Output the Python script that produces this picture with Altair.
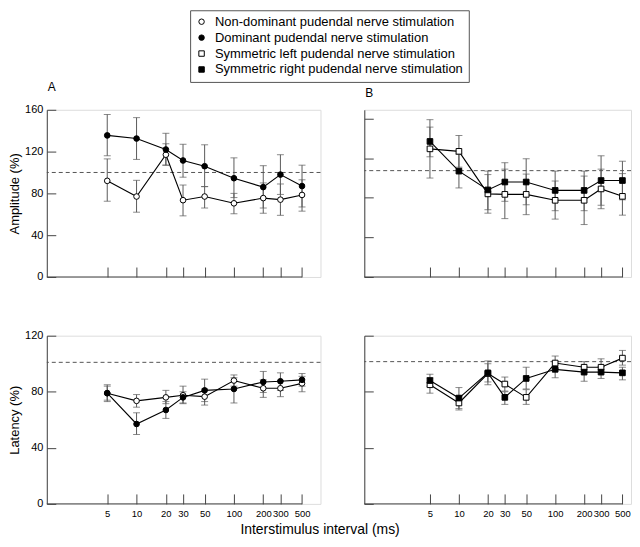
import altair as alt
import pandas as pd

# ---------------- data ----------------
intervals = [5, 10, 20, 30, 50, 100, 200, 300, 500]

series_names = [
    "Non-dominant pudendal nerve stimulation",
    "Dominant pudendal nerve stimulation",
    "Symmetric left pudendal nerve stimulation",
    "Symmetric right pudendal nerve stimulation",
]

# Panel A, amplitude (%)
amp_nondom = [92, 77, 117, 73.5, 77, 70.5, 75.5, 74, 78.5]
amp_nondom_lo = [72.5, 62, 107, 58.5, 66, 60.5, 61, 59, 63]
amp_nondom_hi = [113, 92.5, 127.5, 88, 86.5, 80, 90, 89, 93]
amp_dom = [135.5, 132.5, 122, 111.5, 106, 94.5, 86, 98, 87]
amp_dom_lo = [116, 112.5, 107, 95.5, 86.5, 76, 66, 79, 67]
amp_dom_hi = [155.5, 152.5, 137.5, 127, 126.5, 114, 106.5, 117, 107]

# Panel B, amplitude (%)
amp_left = [129.5, 127, 84, 83.5, 83.5, 77.5, 77.5, 89, 81.5]
amp_left_lo = [100, 111, 64.5, 59, 63, 58.5, 53, 69, 62.5]
amp_left_hi = [159, 143, 103.5, 109, 104, 97, 102, 109, 104.5]
amp_right = [137, 107, 88, 96, 96, 87.5, 87.5, 97.5, 97.5]
amp_right_lo = [121.5, 90, 68, 76.5, 73, 67, 67, 72.5, 78]
amp_right_hi = [151.5, 124, 107, 115.5, 119.5, 107, 107, 122.5, 117]

# Panel A, latency (%)
lat_nondom = [79, 73.5, 76, 77.5, 76.5, 88, 82.5, 82.5, 86]
lat_nondom_lo = [73, 69, 71.5, 71.5, 70.5, 84, 76, 76.5, 80]
lat_nondom_hi = [85, 78, 81, 84, 82, 92, 88.5, 88, 91]
lat_dom = [79, 57, 67, 76, 81, 82, 87, 87.5, 88.5]
lat_dom_lo = [74, 49.5, 61, 72, 73, 72, 79.5, 81, 84]
lat_dom_hi = [84, 65, 73, 80, 89, 90, 94.5, 93.5, 93]

# Panel B, latency (%)
lat_left = [85, 72, 93, 85.5, 76, 100.5, 97.5, 97.5, 104]
lat_left_lo = [79, 67, 85, 80.5, 71, 96.5, 93.5, 93.5, 99]
lat_left_hi = [90, 77, 100, 90.5, 81.5, 105.5, 101.5, 103.5, 109.5]
lat_right = [88, 75.5, 93.5, 76, 89.5, 96, 94, 94, 93.5]
lat_right_lo = [84, 68, 87, 71, 82, 90, 87.5, 89.5, 88.5]
lat_right_hi = [92.5, 83, 102, 80, 97.5, 101.5, 98, 98, 97.5]

ref_amp_a = [100]
ref_amp_b = [107.5]
ref_lat_a = [101]
ref_lat_b = [101.5]

amp_ticks = [0, 40, 80, 120, 160]
lat_ticks = [0, 40, 80, 120]

# ---------------- styling ----------------
FONT = "Liberation Sans"
AX = "#454545"
ERR = "#5a5a5a"

shape_scale = alt.Scale(domain=series_names, range=["circle", "circle", "square", "square"])
fill_scale = alt.Scale(domain=series_names, range=["white", "black", "white", "black"])
stroke_scale = alt.Scale(domain=series_names, range=["black", "black", "black", "black"])

legend = alt.Legend(
    title=None, orient="none", legendX=144, legendY=-100, direction="vertical",
    labelFont=FONT, labelFontSize=13, labelColor="black", labelOffset=7, labelLimit=0,
    symbolSize=30, symbolStrokeColor="black", symbolStrokeWidth=1, symbolOpacity=1,
    strokeColor="#555555", padding=5, rowPadding=2, fillColor="white", cornerRadius=0,
)


def make_df(pairs):
    rows = []
    for name, mean, lo, hi in pairs:
        for x, m, l, h in zip(intervals, mean, lo, hi):
            rows.append({"interval": x, "value": m, "lo": l, "hi": h, "series": name})
    return pd.DataFrame(rows)


def panel(df, ref, ydomain, yticks, xdomain, width, height, title=None,
          ylabels=True, xlabels=False, ytitle=None):
    xs = alt.Scale(type="log", domain=xdomain, nice=False, zero=False)
    ys = alt.Scale(domain=ydomain, nice=False, zero=False)

    base_df = pd.DataFrame({"x0": [xdomain[0]], "x1": [intervals[-1]], "y0": [0]})
    tick_axis_x = alt.Axis(values=intervals, orient="bottom", offset=-10, tickSize=10,
                           labels=False, domain=False, ticks=True, grid=False, title=None,
                           tickColor=AX, tickWidth=1)
    tick_axis_y = alt.Axis(values=yticks, orient="left", offset=-9, tickSize=9,
                           labels=False, domain=False, ticks=True, grid=False, title=None,
                           tickColor=AX, tickWidth=1)
    baseline = alt.Chart(base_df).mark_rule(color=AX, strokeWidth=1).encode(
        x=alt.X("x0:Q", scale=xs, axis=tick_axis_x),
        x2="x1:Q",
        y=alt.Y("y0:Q", scale=ys, axis=tick_axis_y),
    )

    if xlabels:
        main_x_axis = alt.Axis(values=intervals, orient="bottom", labels=True, domain=False,
                               ticks=False, tickSize=0, grid=False, title=None,
                               labelPadding=5, labelFontSize=9.5, format="d",
                               labelOverlap=False, labelFlush=False,
                               labelFont=FONT, labelColor="black")
    else:
        main_x_axis = None
    main_y_axis = alt.Axis(values=yticks, orient="left", labels=ylabels, domain=True,
                           domainColor=AX, ticks=False, tickSize=0, grid=False,
                           title=ytitle, titleFontSize=13, titleFontWeight="normal",
                           titleFont=FONT, titleColor="black", titlePadding=3,
                           labelPadding=4, labelFontSize=11, labelFont=FONT,
                           labelColor="black", format="d")

    err = alt.Chart(df).mark_errorbar(
        ticks={"size": 7, "color": ERR}, rule={"color": ERR}, color=ERR, thickness=1
    ).encode(
        x=alt.X("interval:Q", scale=xs, axis=None),
        y=alt.Y("lo:Q", scale=ys, axis=None, title=None),
        y2="hi:Q",
    )
    dash = alt.Chart(pd.DataFrame({"ref": ref})).mark_rule(
        color="#555555", strokeDash=[4, 3], strokeWidth=1
    ).encode(y=alt.Y("ref:Q", scale=ys, axis=None))
    line = alt.Chart(df).mark_line(color="black", strokeWidth=1.1).encode(
        x=alt.X("interval:Q", scale=xs, axis=main_x_axis),
        y=alt.Y("value:Q", scale=ys, axis=main_y_axis),
        detail="series:N",
    )
    pts = alt.Chart(df).mark_point(
        filled=True, size=32, opacity=1, stroke="black", strokeWidth=1
    ).encode(
        x=alt.X("interval:Q", scale=xs, axis=None),
        y=alt.Y("value:Q", scale=ys, axis=None),
        shape=alt.Shape("series:N", scale=shape_scale, legend=legend),
        fill=alt.Fill("series:N", scale=fill_scale, legend=legend),
        stroke=alt.Stroke("series:N", scale=stroke_scale, legend=legend),
    )
    props = dict(width=width, height=height)
    if title is not None:
        props["title"] = alt.TitleParams(title, anchor="start", frame="group", fontSize=12,
                                         fontWeight="normal", offset=10, dx=1, font=FONT,
                                         color="black")
    return alt.layer(baseline, err, dash, line, pts).resolve_axis(
        x="independent", y="independent"
    ).properties(**props)


df_amp_a = make_df([
    (series_names[0], amp_nondom, amp_nondom_lo, amp_nondom_hi),
    (series_names[1], amp_dom, amp_dom_lo, amp_dom_hi),
])
df_amp_b = make_df([
    (series_names[2], amp_left, amp_left_lo, amp_left_hi),
    (series_names[3], amp_right, amp_right_lo, amp_right_hi),
])
df_lat_a = make_df([
    (series_names[0], lat_nondom, lat_nondom_lo, lat_nondom_hi),
    (series_names[1], lat_dom, lat_dom_lo, lat_dom_hi),
])
df_lat_b = make_df([
    (series_names[2], lat_left, lat_left_lo, lat_left_hi),
    (series_names[3], lat_right, lat_right_lo, lat_right_hi),
])

XA = [1.198, 774]
XB = [1.039, 614]
WA, WB = 275, 268
HT, HB = 168, 169

a_top = panel(df_amp_a, ref_amp_a, [0, 160], amp_ticks, XA, WA, HT, title="A",
              ylabels=True, ytitle="Amplitude (%)")
b_top = panel(df_amp_b, ref_amp_b, [0, 169], amp_ticks, XB, WB, HT, title="B",
              ylabels=False)
a_bot = panel(df_lat_a, ref_lat_a, [0, 120], lat_ticks, XA, WA, HB,
              ylabels=True, xlabels=True, ytitle="Latency (%)")
b_bot = panel(df_lat_b, ref_lat_b, [0, 120], lat_ticks, XB, WB, HB,
              ylabels=False, xlabels=True)

top = alt.hconcat(a_top, b_top, spacing=42)
bot = alt.hconcat(
    a_bot, b_bot, spacing=42,
    title=alt.TitleParams("Interstimulus interval (ms)", orient="bottom", anchor="middle",
                          fontSize=14, fontWeight="normal", font=FONT, color="black",
                          offset=4),
)

chart = alt.vconcat(top, bot, spacing=46).properties(
    padding={"left": 0, "top": 0, "right": 0, "bottom": 0}
).configure_view(stroke=None).configure(font=FONT)

chart.save("out.html", embed_options={"renderer": "svg", "actions": False})
